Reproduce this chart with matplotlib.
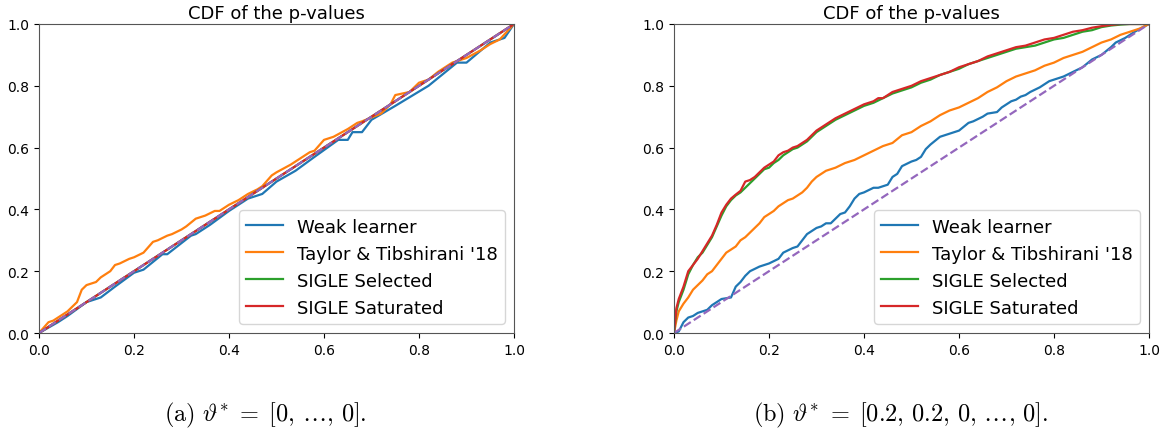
import matplotlib
matplotlib.use("Agg")
import matplotlib.pyplot as plt
import numpy as np

# ---- data (a) ----
a_weak_x = [0, 0.04, 0.06, 0.1, 0.13, 0.16, 0.2, 0.22, 0.26, 0.27, 0.32, 0.33, 0.36, 0.4, 0.44, 0.46, 0.47, 0.5,
            0.54, 0.58, 0.63, 0.65, 0.66, 0.68, 0.7, 0.75, 0.82, 0.88, 0.9, 0.95, 0.98, 1.0]
a_weak_y = [0, 0.035, 0.055, 0.1, 0.115, 0.15, 0.195, 0.205, 0.255, 0.255, 0.315, 0.32, 0.35, 0.395, 0.435, 0.445,
            0.45, 0.49, 0.525, 0.57, 0.625, 0.625, 0.65, 0.65, 0.69, 0.735, 0.8, 0.875, 0.875, 0.94, 0.955, 1.0]
a_tt_x = [0, 0.02, 0.03, 0.05, 0.06, 0.08, 0.09, 0.1, 0.12, 0.13, 0.15, 0.16, 0.17, 0.19, 0.2, 0.22, 0.24, 0.25,
          0.27, 0.28, 0.3, 0.31, 0.33, 0.35, 0.37, 0.38, 0.4, 0.42, 0.44, 0.46, 0.47, 0.49, 0.5, 0.53, 0.55, 0.57,
          0.58, 0.6, 0.62, 0.65, 0.67, 0.68, 0.72, 0.74, 0.75, 0.78, 0.8, 0.82, 0.84, 0.87, 0.9, 0.93, 0.95, 0.97, 1.0]
a_tt_y = [0, 0.035, 0.04, 0.06, 0.07, 0.10, 0.14, 0.155, 0.165, 0.18, 0.2, 0.22, 0.225, 0.24, 0.245, 0.26, 0.295,
          0.30, 0.315, 0.32, 0.335, 0.345, 0.37, 0.38, 0.395, 0.395, 0.415, 0.43, 0.45, 0.465, 0.475, 0.51, 0.52,
          0.545, 0.565, 0.585, 0.59, 0.625, 0.635, 0.66, 0.68, 0.685, 0.71, 0.74, 0.77, 0.78, 0.81, 0.82, 0.845,
          0.875, 0.89, 0.915, 0.935, 0.95, 1.0]
a_sel_x = [0, 0.1, 0.2, 0.3, 0.4, 0.5, 0.6, 0.7, 0.8, 0.9, 1.0]
a_sel_y = [0, 0.1, 0.2, 0.3, 0.4, 0.5, 0.6, 0.7, 0.8, 0.9, 1.0]
a_sat_x = [0, 0.1, 0.2, 0.3, 0.4, 0.5, 0.6, 0.7, 0.8, 0.9, 1.0]
a_sat_y = [0, 0.1, 0.2, 0.3, 0.4, 0.5, 0.6, 0.7, 0.8, 0.9, 1.0]

# ---- data (b) ----
b_weak_x = [0, 0.01, 0.02, 0.03, 0.04, 0.05, 0.06, 0.07, 0.08, 0.09, 0.1, 0.12, 0.13, 0.14, 0.15, 0.16, 0.18, 0.2,
            0.22, 0.23, 0.25, 0.26, 0.27, 0.28, 0.3, 0.31, 0.32, 0.33, 0.35, 0.36, 0.37, 0.38, 0.39, 0.4, 0.42,
            0.43, 0.44, 0.45, 0.46, 0.47, 0.48, 0.5, 0.51, 0.52, 0.53, 0.54, 0.56, 0.58, 0.6, 0.62, 0.63, 0.65,
            0.66, 0.68, 0.69, 0.71, 0.72, 0.73, 0.74, 0.75, 0.77, 0.79, 0.8, 0.82, 0.84, 0.86, 0.88, 0.9, 0.92,
            0.93, 0.95, 0.97, 1.0]
b_weak_y = [0, 0.005, 0.035, 0.05, 0.055, 0.065, 0.07, 0.075, 0.09, 0.10, 0.11, 0.115, 0.15, 0.165, 0.185, 0.2,
            0.215, 0.225, 0.24, 0.26, 0.275, 0.28, 0.3, 0.32, 0.34, 0.345, 0.355, 0.355, 0.385, 0.39, 0.41, 0.435,
            0.45, 0.455, 0.47, 0.47, 0.475, 0.48, 0.505, 0.515, 0.54, 0.555, 0.56, 0.57, 0.595, 0.61, 0.635, 0.645,
            0.655, 0.68, 0.685, 0.70, 0.71, 0.715, 0.73, 0.75, 0.755, 0.765, 0.77, 0.78, 0.795, 0.815, 0.82, 0.83,
            0.845, 0.86, 0.885, 0.9, 0.925, 0.94, 0.955, 0.975, 1.0]
b_tt_x = [0, 0.005, 0.01, 0.02, 0.03, 0.04, 0.05, 0.06, 0.07, 0.08, 0.09, 0.1, 0.11, 0.12, 0.13, 0.14, 0.15, 0.16,
          0.17, 0.18, 0.19, 0.2, 0.21, 0.22, 0.23, 0.24, 0.25, 0.26, 0.27, 0.28, 0.29, 0.3, 0.31, 0.32, 0.33, 0.34,
          0.36, 0.38, 0.4, 0.42, 0.44, 0.46, 0.48, 0.5, 0.52, 0.54, 0.56, 0.58, 0.6, 0.62, 0.64, 0.66, 0.68, 0.7,
          0.72, 0.74, 0.76, 0.78, 0.8, 0.82, 0.84, 0.86, 0.88, 0.9, 0.92, 0.94, 0.96, 0.98, 1.0]
b_tt_y = [0, 0.04, 0.07, 0.095, 0.115, 0.14, 0.155, 0.17, 0.19, 0.2, 0.22, 0.24, 0.26, 0.27, 0.28, 0.3, 0.31,
          0.325, 0.34, 0.355, 0.375, 0.385, 0.395, 0.41, 0.42, 0.43, 0.435, 0.445, 0.455, 0.47, 0.49, 0.505,
          0.515, 0.525, 0.53, 0.535, 0.55, 0.56, 0.575, 0.59, 0.605, 0.615, 0.64, 0.65, 0.67, 0.685, 0.705, 0.72,
          0.73, 0.745, 0.76, 0.78, 0.795, 0.815, 0.83, 0.84, 0.85, 0.865, 0.875, 0.89, 0.9, 0.91, 0.925, 0.94,
          0.95, 0.965, 0.975, 0.985, 1.0]
b_sel_x = [0, 0.005, 0.01, 0.02, 0.03, 0.04, 0.05, 0.06, 0.07, 0.08, 0.09, 0.1, 0.11, 0.12, 0.13, 0.14, 0.15,
           0.16, 0.17, 0.18, 0.19, 0.2, 0.21, 0.22, 0.23, 0.24, 0.25, 0.26, 0.27, 0.28, 0.29, 0.3, 0.32, 0.34,
           0.36, 0.38, 0.4, 0.42, 0.44, 0.46, 0.48, 0.5, 0.52, 0.54, 0.56, 0.58, 0.6, 0.62, 0.64, 0.66, 0.68, 0.7,
           0.72, 0.74, 0.76, 0.78, 0.8, 0.82, 0.84, 0.86, 0.88, 0.9, 0.92, 0.94, 0.96, 0.98, 1.0]
b_sel_y = [0, 0.07, 0.1, 0.14, 0.19, 0.22, 0.245, 0.26, 0.285, 0.31, 0.345, 0.38, 0.41, 0.43, 0.445, 0.455, 0.47,
           0.485, 0.5, 0.515, 0.53, 0.535, 0.55, 0.56, 0.575, 0.585, 0.595, 0.6, 0.61, 0.62, 0.635, 0.65, 0.67,
           0.69, 0.705, 0.72, 0.735, 0.745, 0.76, 0.775, 0.785, 0.795, 0.81, 0.82, 0.835, 0.845, 0.855, 0.87,
           0.88, 0.89, 0.9, 0.91, 0.92, 0.925, 0.93, 0.94, 0.95, 0.955, 0.965, 0.975, 0.98, 0.99, 0.995, 0.998,
           1.0, 1.0, 1.0]
b_sat_x = [0, 0.005, 0.01, 0.02, 0.03, 0.04, 0.05, 0.06, 0.07, 0.08, 0.09, 0.1, 0.11, 0.12, 0.13, 0.14, 0.15,
           0.16, 0.17, 0.18, 0.19, 0.2, 0.21, 0.22, 0.23, 0.24, 0.25, 0.26, 0.27, 0.28, 0.29, 0.3, 0.32, 0.34,
           0.36, 0.38, 0.4, 0.42, 0.43, 0.44, 0.46, 0.48, 0.5, 0.52, 0.54, 0.56, 0.58, 0.6, 0.62, 0.64, 0.66, 0.68,
           0.7, 0.72, 0.74, 0.76, 0.78, 0.8, 0.82, 0.84, 0.86, 0.88, 0.9, 0.92, 0.94, 0.96, 0.98, 1.0]
b_sat_y = [0, 0.08, 0.11, 0.15, 0.2, 0.22, 0.24, 0.265, 0.29, 0.315, 0.35, 0.39, 0.415, 0.435, 0.448, 0.46, 0.49,
           0.495, 0.505, 0.52, 0.535, 0.545, 0.555, 0.575, 0.585, 0.59, 0.6, 0.605, 0.615, 0.625, 0.64, 0.655,
           0.675, 0.695, 0.71, 0.725, 0.74, 0.75, 0.76, 0.76, 0.78, 0.79, 0.8, 0.815, 0.825, 0.835, 0.845, 0.86,
           0.87, 0.88, 0.895, 0.905, 0.915, 0.925, 0.93, 0.94, 0.95, 0.955, 0.965, 0.975, 0.98, 0.988, 0.993,
           0.997, 1.0, 1.0, 1.0, 1.0]

labels = ["Weak learner", "Taylor & Tibshirani '18", "SIGLE Selected", "SIGLE Saturated"]
ticks = [0.0, 0.2, 0.4, 0.6, 0.8, 1.0]
captions = [r"$\mathrm{(a)}\ \vartheta^{*}\;=\;[0,\,\ldots,\,0].$",
            r"$\mathrm{(b)}\ \vartheta^{*}\;=\;[0.2,\,0.2,\,0,\,\ldots,\,0].$"]

plt.rcParams['mathtext.fontset'] = 'cm'
fig = plt.figure(figsize=(11.68, 4.31), dpi=100)
W, H = 1168, 431
axes = [fig.add_axes([39 / W, 1 - 334 / H, 475 / W, 309 / H]),
        fig.add_axes([674 / W, 1 - 334 / H, 475 / W, 309 / H])]

panels = [
    [(a_weak_x, a_weak_y), (a_tt_x, a_tt_y), (a_sel_x, a_sel_y), (a_sat_x, a_sat_y)],
    [(b_weak_x, b_weak_y), (b_tt_x, b_tt_y), (b_sel_x, b_sel_y), (b_sat_x, b_sat_y)],
]
colors = ['#1f77b4', '#ff7f0e', '#2ca02c', '#d62728']

for ax, series, cap in zip(axes, panels, captions):
    for (x, y), lab, c in zip(series, labels, colors):
        ax.plot(x, y, color=c, lw=1.6, label=lab)
    ax.plot([0, 1], [0, 1], color='#9467bd', ls='--', lw=1.6)
    ax.set_xlim(0, 1)
    ax.set_ylim(0, 1)
    ax.set_xticks(ticks)
    ax.set_yticks(ticks)
    ax.tick_params(labelsize=10)
    ax.set_title("CDF of the p-values", fontsize=13, pad=4)
    ax.legend(loc='lower right', fontsize=13, handlelength=2.0)
    for s in ax.spines.values():
        s.set_color('#555555')
    bb = ax.get_position()
    fig.text(bb.x0 + bb.width / 2 - 11 / W, 1 - 415 / H, cap, ha='center', va='center',
             fontsize=17.5, math_fontfamily='cm')

fig.savefig("out.png", dpi=100)
